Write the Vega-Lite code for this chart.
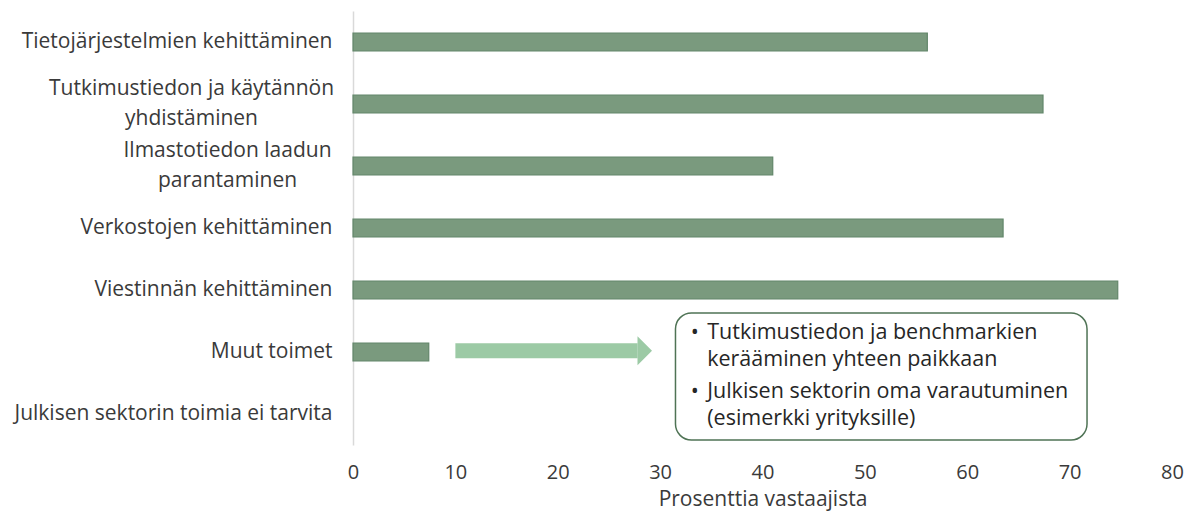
{
  "$schema": "https://vega.github.io/schema/vega-lite/v6.json",
  "width": 819,
  "height": 434,
  "autosize": "none",
  "padding": {"left": 353, "top": 11, "right": 27, "bottom": 68},
  "background": "white",
  "config": {"view": {"stroke": null}, "font": "Open Sans"},
  "datasets": {
    "bars": [
      {"toimi": "Tietojärjestelmien kehittäminen", "prosentti": 56.1},
      {"toimi": "Tutkimustiedon ja käytännön yhdistäminen", "prosentti": 67.4},
      {"toimi": "Ilmastotiedon laadun parantaminen", "prosentti": 41.0},
      {"toimi": "Verkostojen kehittäminen", "prosentti": 63.5},
      {"toimi": "Viestinnän kehittäminen", "prosentti": 74.7},
      {"toimi": "Muut toimet", "prosentti": 7.4},
      {"toimi": "Julkisen sektorin toimia ei tarvita", "prosentti": 0}
    ],
    "arrow": [{"alku": 10, "loppu": 27.8, "rivi": 5.48}],
    "head": [{"kohta": 28.5, "rivi": 5.48}],
    "box": [{"alku": 31.5, "loppu": 71.7, "ylä": 4.87, "ala": 6.92}],
    "lines": [
      {"kohta": 33.0, "rivi": 5.19, "teksti": "•"},
      {"kohta": 34.6, "rivi": 5.19, "teksti": "Tutkimustiedon ja benchmarkien"},
      {"kohta": 34.6, "rivi": 5.63, "teksti": "kerääminen yhteen paikkaan"},
      {"kohta": 33.0, "rivi": 6.15, "teksti": "•"},
      {"kohta": 34.6, "rivi": 6.15, "teksti": "Julkisen sektorin oma varautuminen"},
      {"kohta": 34.6, "rivi": 6.58, "teksti": "(esimerkki yrityksille)"}
    ]
  },
  "layer": [
    {
      "data": {"name": "bars"},
      "mark": {"type": "bar", "fill": "#7a9a7e", "stroke": "#62866a", "strokeWidth": 1.2},
      "encoding": {
        "y": {
          "field": "toimi",
          "type": "nominal",
          "sort": null,
          "scale": {"paddingInner": 0.71, "paddingOuter": 0.355},
          "axis": {
            "title": null,
            "ticks": false,
            "domain": true,
            "domainColor": "#d9d9d9",
            "domainWidth": 1.5,
            "labelFont": "Open Sans",
            "labelFontSize": 21,
            "labelColor": "#3a3a3a",
            "labelLimit": 400,
            "labelLineHeight": 30,
            "labelExpr": "datum.value == 'Tutkimustiedon ja käytännön yhdistäminen' ? ['Tutkimustiedon ja käytännön', 'yhdistäminen'] : datum.value == 'Ilmastotiedon laadun parantaminen' ? ['Ilmastotiedon laadun', 'parantaminen'] : datum.label",
            "labelAlign": {"condition": {"test": "datum.value == 'Tutkimustiedon ja käytännön yhdistäminen' || datum.value == 'Ilmastotiedon laadun parantaminen'", "value": "center"}, "value": "right"},
            "labelOffset": {"condition": {"test": "datum.value == 'Tutkimustiedon ja käytännön yhdistäminen' || datum.value == 'Ilmastotiedon laadun parantaminen'", "value": -15}, "value": 0},
            "labelPadding": {"condition": [{"test": "datum.value == 'Tutkimustiedon ja käytännön yhdistäminen'", "value": 162}, {"test": "datum.value == 'Ilmastotiedon laadun parantaminen'", "value": 126}], "value": 21}
          }
        },
        "x": {
          "field": "prosentti",
          "type": "quantitative",
          "scale": {"domain": [0, 80], "nice": false},
          "axis": {
            "title": "Prosenttia vastaajista",
            "values": [0, 10, 20, 30, 40, 50, 60, 70, 80],
            "grid": false,
            "ticks": false,
            "domain": false,
            "labelFlush": false,
            "labelFont": "Open Sans",
            "labelFontSize": 20,
            "labelColor": "#3a3a3a",
            "labelPadding": 17,
            "titleFont": "Open Sans",
            "titleFontSize": 21,
            "titleFontWeight": "normal",
            "titleColor": "#3a3a3a",
            "titlePadding": 6
          }
        },
        "strokeOpacity": {"condition": {"test": "datum.prosentti > 0", "value": 1}, "value": 0}
      }
    },
    {
      "layer": [
        {
          "data": {"name": "arrow"},
          "mark": {"type": "rule", "color": "#9ccaa5", "strokeWidth": 15, "strokeCap": "butt"},
          "encoding": {
            "x": {"field": "alku", "type": "quantitative", "scale": {"domain": [0, 80], "nice": false}},
            "x2": {"field": "loppu"},
            "y": {"field": "rivi", "type": "quantitative", "scale": {"domain": [0, 7], "reverse": true, "nice": false}, "axis": null}
          }
        },
        {
          "data": {"name": "head"},
          "mark": {"type": "point", "shape": "M -0.5 -1 L 0.5 0 L -0.5 1 Z", "filled": true, "color": "#9ccaa5", "opacity": 1, "size": 841},
          "encoding": {
            "x": {"field": "kohta", "type": "quantitative"},
            "y": {"field": "rivi", "type": "quantitative", "axis": null}
          }
        },
        {
          "data": {"name": "box"},
          "mark": {"type": "rect", "fill": "#9a9a9a", "opacity": 0.45, "cornerRadius": 16, "xOffset": 2, "yOffset": 3},
          "encoding": {
            "x": {"field": "alku", "type": "quantitative"},
            "x2": {"field": "loppu"},
            "y": {"field": "ylä", "type": "quantitative", "axis": null},
            "y2": {"field": "ala"}
          }
        },
        {
          "data": {"name": "box"},
          "mark": {"type": "rect", "fill": "white", "stroke": "#4f7355", "strokeWidth": 1.5, "cornerRadius": 16},
          "encoding": {
            "x": {"field": "alku", "type": "quantitative"},
            "x2": {"field": "loppu"},
            "y": {"field": "ylä", "type": "quantitative", "axis": null},
            "y2": {"field": "ala"}
          }
        },
        {
          "data": {"name": "lines"},
          "mark": {"type": "text", "align": "left", "baseline": "middle", "font": "Open Sans", "fontSize": 21.5, "color": "#262626"},
          "encoding": {
            "x": {"field": "kohta", "type": "quantitative"},
            "y": {"field": "rivi", "type": "quantitative", "axis": null},
            "text": {"field": "teksti"}
          }
        }
      ]
    }
  ],
  "resolve": {"scale": {"y": "independent"}}
}
